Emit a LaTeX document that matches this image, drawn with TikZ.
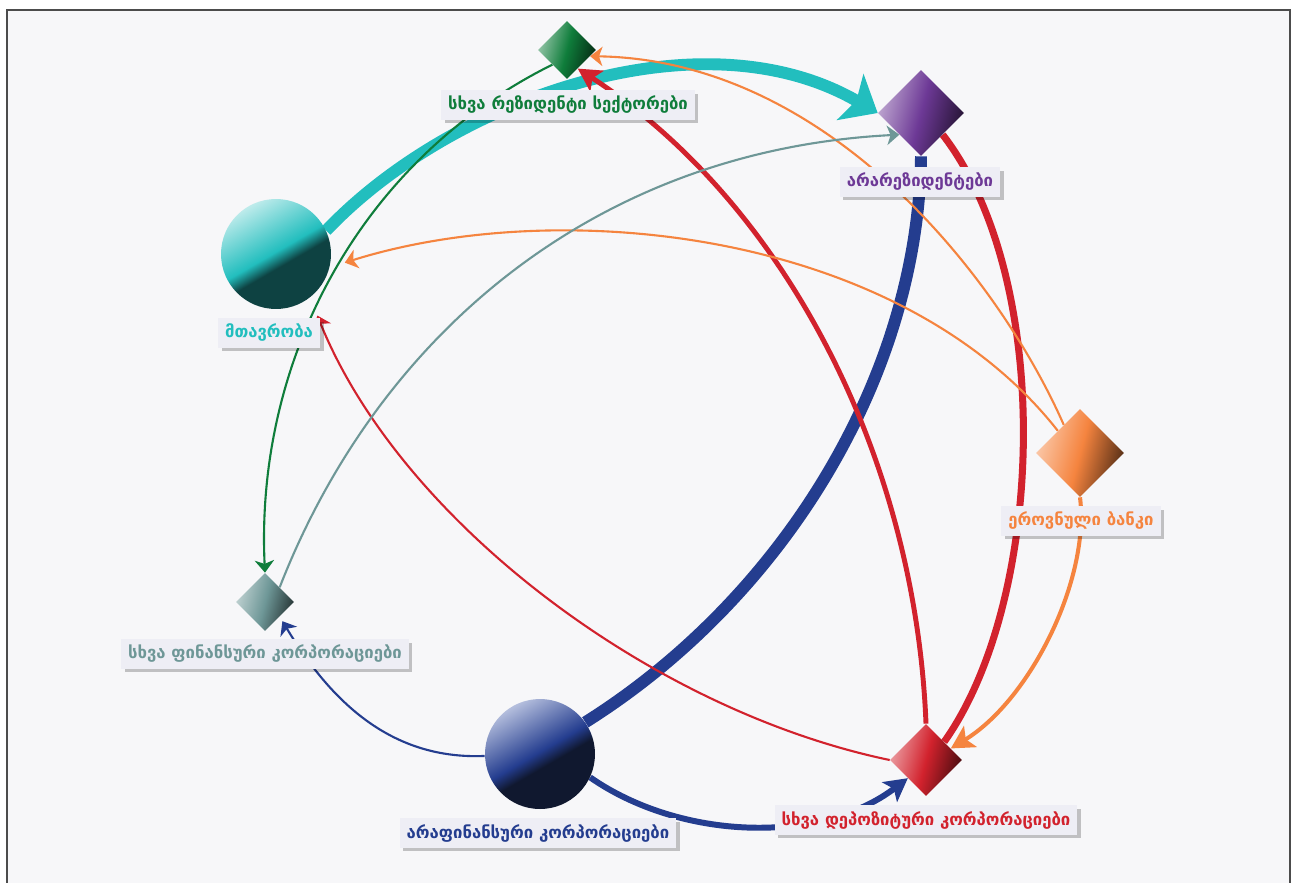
\documentclass[tikz,border=0pt]{standalone}
\usepackage{fontspec}
\setmainfont{DejaVu Sans}
\usetikzlibrary{shapes.geometric,arrows.meta,shadows}

\definecolor{panel}{HTML}{F7F7F9}
\definecolor{tagfill}{HTML}{EEEEF5}
\definecolor{tealc}{HTML}{22BEBE}
\definecolor{navyc}{HTML}{243D8F}
\definecolor{redc}{HTML}{D2222D}
\definecolor{orgc}{HTML}{F5843F}
\definecolor{grnc}{HTML}{0F7D3B}
\definecolor{purc}{HTML}{6D3996}
\definecolor{greyc}{HTML}{6E9797}

\definecolor{teallt}{HTML}{BDEBEB}
\definecolor{tealdk}{HTML}{0E4242}
\definecolor{navylt}{HTML}{B4BEDD}
\definecolor{navydk}{HTML}{10182F}

\pgfdeclareverticalshading{tealball}{100bp}{color(0bp)=(tealdk); color(25bp)=(tealdk); color(44bp)=(tealdk); color(51bp)=(tealc); color(75bp)=(teallt); color(100bp)=(teallt)}
\pgfdeclareverticalshading{navyball}{100bp}{color(0bp)=(navydk); color(25bp)=(navydk); color(44bp)=(navydk); color(51bp)=(navyc); color(75bp)=(navylt); color(100bp)=(navylt)}

\pgfdeclarelayer{back}
\pgfdeclarelayer{links}
\pgfsetlayers{back,links,main}

\tikzset{
  ball/.style={circle, minimum size=2.2cm, inner sep=0pt},
  dia/.style={diamond, aspect=1, inner sep=0pt, minimum size=#1},
  tint/.style={left color=#1!45, right color=#1!35!black, middle color=#1, shading angle=75},
  tag/.style={fill=tagfill, inner xsep=4pt, minimum height=17pt,
    font=\fontsize{9.5}{11}\selectfont\bfseries,
    drop shadow={shadow xshift=2pt, shadow yshift=-2pt, fill=black, opacity=.22}},
  thin link/.style={line width=1.2pt, -{Stealth[length=7pt,width=11pt,inset=2pt]}},
  mid link/.style={line width=#1, -{Stealth[length=13pt,width=14pt,inset=3pt]}}
}

\begin{document}
\begin{tikzpicture}[x=0.02cm, y=-0.02cm]
\useasboundingbox (0,0) rectangle (1293,882);
\begin{pgfonlayer}{back}
\fill[white] (0,0) rectangle (1293,882);
\draw[black!70, line width=1.2pt, fill=panel] (7,900) -- (7,10) -- (1290,10) -- (1290,900);
\end{pgfonlayer}

% sectors
\node[dia=1.16cm, tint=grnc] (sect) at (567,50) {};
\node[dia=1.72cm, tint=purc] (nonres) at (921,113) {};
\node[ball, shading=tealball, shading angle=30] (gov) at (276,254) {};
\node[dia=1.76cm, tint=orgc] (nb) at (1080,453) {};
\node[dia=1.16cm, tint=greyc] (ofc) at (265,602) {};
\node[ball, shading=navyball, shading angle=30] (nfc) at (540,754) {};
\node[dia=1.44cm, tint=redc] (odc) at (926,760) {};

% labels
\node[tag, text=grnc] (sect-l) at (568,105) {სხვა რეზიდენტი სექტორები};
\node[tag, text=purc] (nonres-l) at (920,182) {არარეზიდენტები};
\node[tag, text=tealc] (gov-l) at (269,333) {მთავრობა};
\node[tag, text=orgc] (nb-l) at (1081,521) {ეროვნული ბანკი};
\node[tag, text=greyc] (ofc-l) at (265,654) {სხვა ფინანსური კორპორაციები};
\node[tag, text=navyc] (nfc-l) at (538,833) {არაფინანსური კორპორაციები};
\node[tag, text=redc] (odc-l) at (926,820) {სხვა დეპოზიტური კორპორაციები};

% flows
\begin{pgfonlayer}{links}
\draw[tealc, line width=6.8pt, -{Stealth[length=18pt,width=30pt,inset=4pt]}]
  (gov.25) .. controls (450,100) and (700,10) .. (nonres.west);
\draw[navyc, line width=6.8pt] (nfc.35) .. controls (780,600) and (918,380) .. (nonres.south);
\draw[navyc, mid link=3.4pt] (nfc.-25) .. controls (680,840) and (820,845) .. (odc.south west);
\draw[navyc, thin link, shorten >=3pt] (nfc.182) .. controls (390,760) and (330,700) .. (ofc.south east);
\draw[redc, line width=4pt] (odc.north east) .. controls (1045,600) and (1055,280) .. (nonres.south east);
\draw[redc, mid link=2.8pt] (odc.north) .. controls (915,450) and (780,200) .. (sect.-60);
\draw[redc, thin link, shorten >=11pt] (odc.west) .. controls (650,710) and (400,520) .. (gov.-52);
\draw[orgc, mid link=2.3pt] (nb.south) .. controls (1090,580) and (1030,700) .. (odc.25);
\draw[orgc, thin link, shorten >=9pt] (nb.north west) .. controls (900,230) and (560,195) .. (gov.-14);
\draw[orgc, thin link] (nb.120) .. controls (1000,280) and (830,60) .. (sect.-15);
\draw[grnc, thin link] (sect.south west) .. controls (360,160) and (255,360) .. (ofc.north);
\draw[greyc, thin link] (ofc.north east) .. controls (380,330) and (600,150) .. (nonres.south west);
\end{pgfonlayer}
\end{tikzpicture}
\end{document}
